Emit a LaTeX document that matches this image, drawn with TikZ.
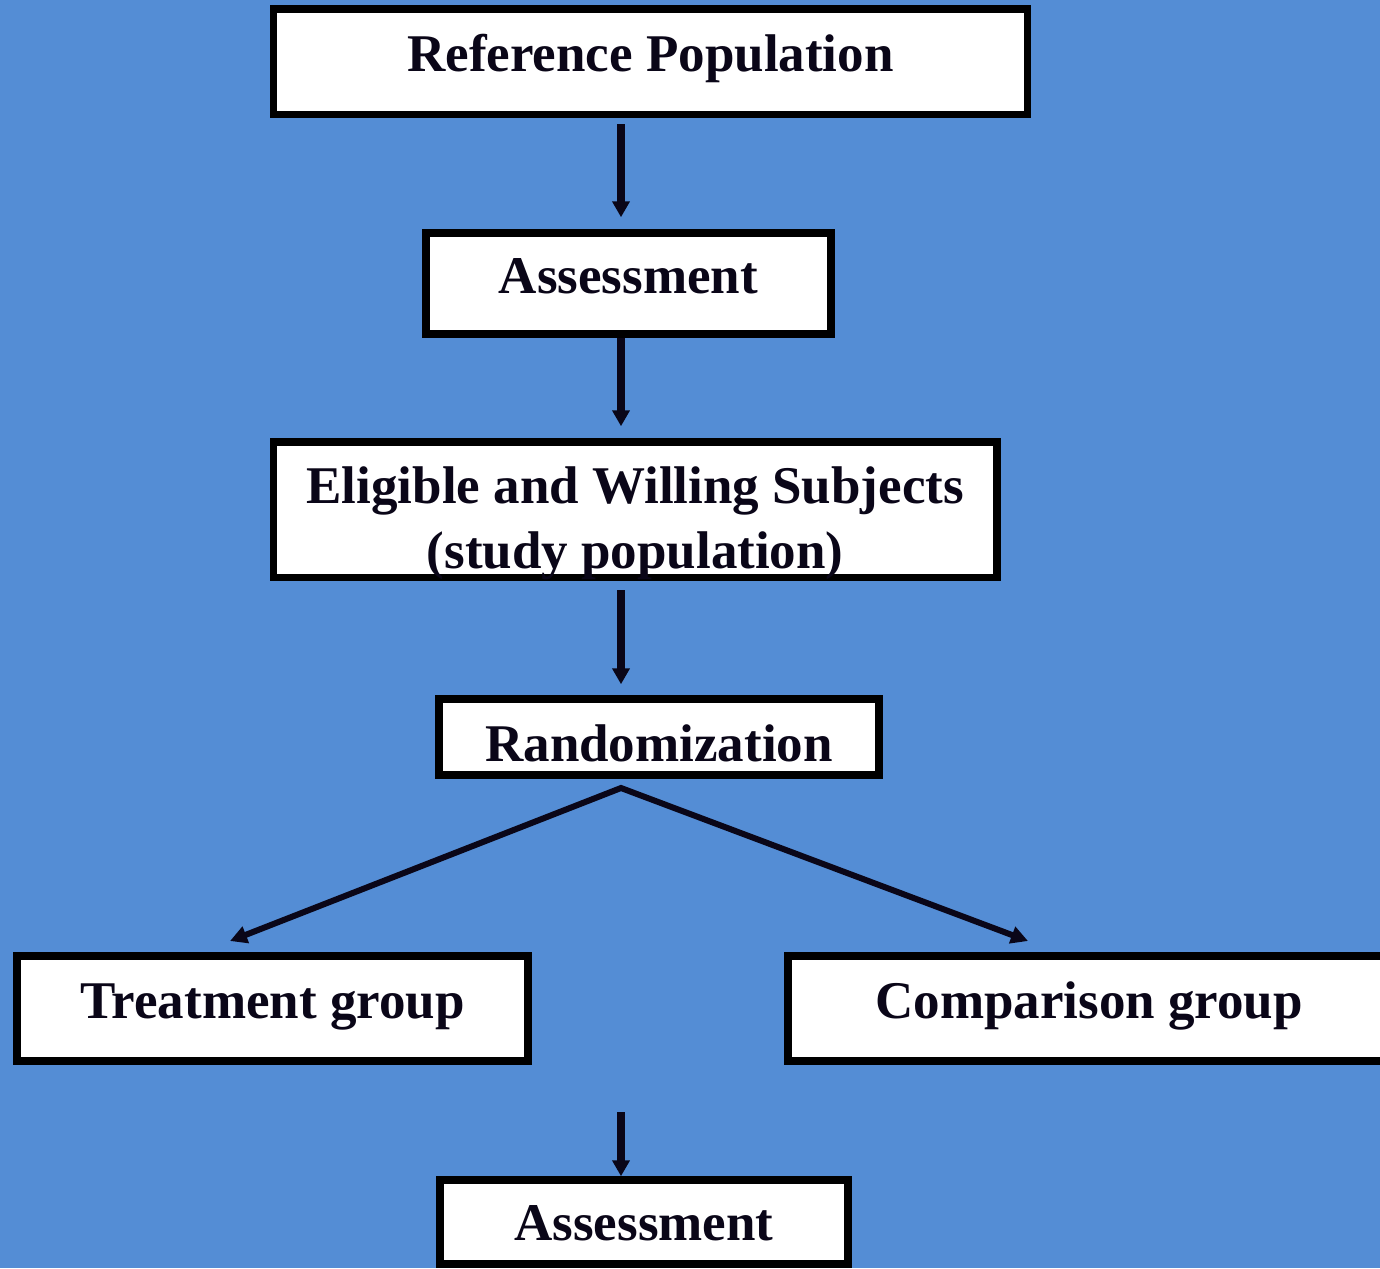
\documentclass[tikz,border=0pt]{standalone}
\usepackage{fontspec}
\setmainfont{Liberation Serif}
\usetikzlibrary{arrows.meta}
\definecolor{slideblue}{RGB}{84,141,213}
\definecolor{ink}{RGB}{10,6,24}
\tikzset{
  box/.style={draw=black,line width=7.5pt,fill=white,text=ink,inner sep=0pt,
    font=\fontsize{53}{65}\selectfont\bfseries,text height=37pt,text depth=18pt},
  flow/.style={draw=ink,line width=7.5pt,-{Triangle[length=16pt,width=17pt]}},
  branch/.style={draw=ink,line width=6pt,
    {Triangle[length=17pt,width=17pt]}-{Triangle[length=17pt,width=17pt]}}
}
\begin{document}
\begin{tikzpicture}[x=1pt,y=-1pt]
  \useasboundingbox (0,0) rectangle (1380,1268);
  \clip (0,0) rectangle (1380,1268);
  \fill [slideblue] (0,0) rectangle (1380,1268);

  \node [box,minimum width=754pt,minimum height=105.5pt] (refpop) at (650.5,61.75) {Reference Population};
  \node [box,minimum width=405pt,minimum height=101pt] (assess) at (628.5,283.5) {Assessment};
  \node [box,minimum width=723.5pt,minimum height=135.5pt,align=center,
    text height=126pt,text depth=9.5pt] (eligible) at (635.25,509.75)
    {Eligible and Willing Subjects\\(study population)};
  \node [box,minimum width=440pt,minimum height=76pt,text height=60pt,text depth=12pt] (random) at (659,737) {Randomization};
  \node [box,minimum width=511pt,minimum height=105pt] (treat) at (272.5,1008.5) {Treatment group};
  \node [box,minimum width=602pt,minimum height=105pt] (compare) at (1089,1008.5) {Comparison group};
  \node [box,minimum width=408pt,minimum height=84pt,text height=49pt,text depth=13pt] (reassess) at (644,1222) {Assessment};

  \coordinate (spine) at (621,0);
  \coordinate (split) at (621,788);
  \coordinate (treattip) at (230,941);
  \coordinate (comparetip) at (1028,941);
  \coordinate (join) at (621,1112);

  \draw [flow,shorten <=6pt,shorten >=12pt] (refpop.south -| spine) -- (assess.north -| spine);
  \draw [flow,shorten >=12pt] (assess.south -| spine) -- (eligible.north -| spine);
  \draw [flow,shorten <=9pt,shorten >=11pt] (eligible.south -| spine) -- (random.north -| spine);
  \draw [branch] (treattip) -- (split) -- (comparetip);
  \draw [flow] (join) -- (reassess.north -| spine);
\end{tikzpicture}
\end{document}
